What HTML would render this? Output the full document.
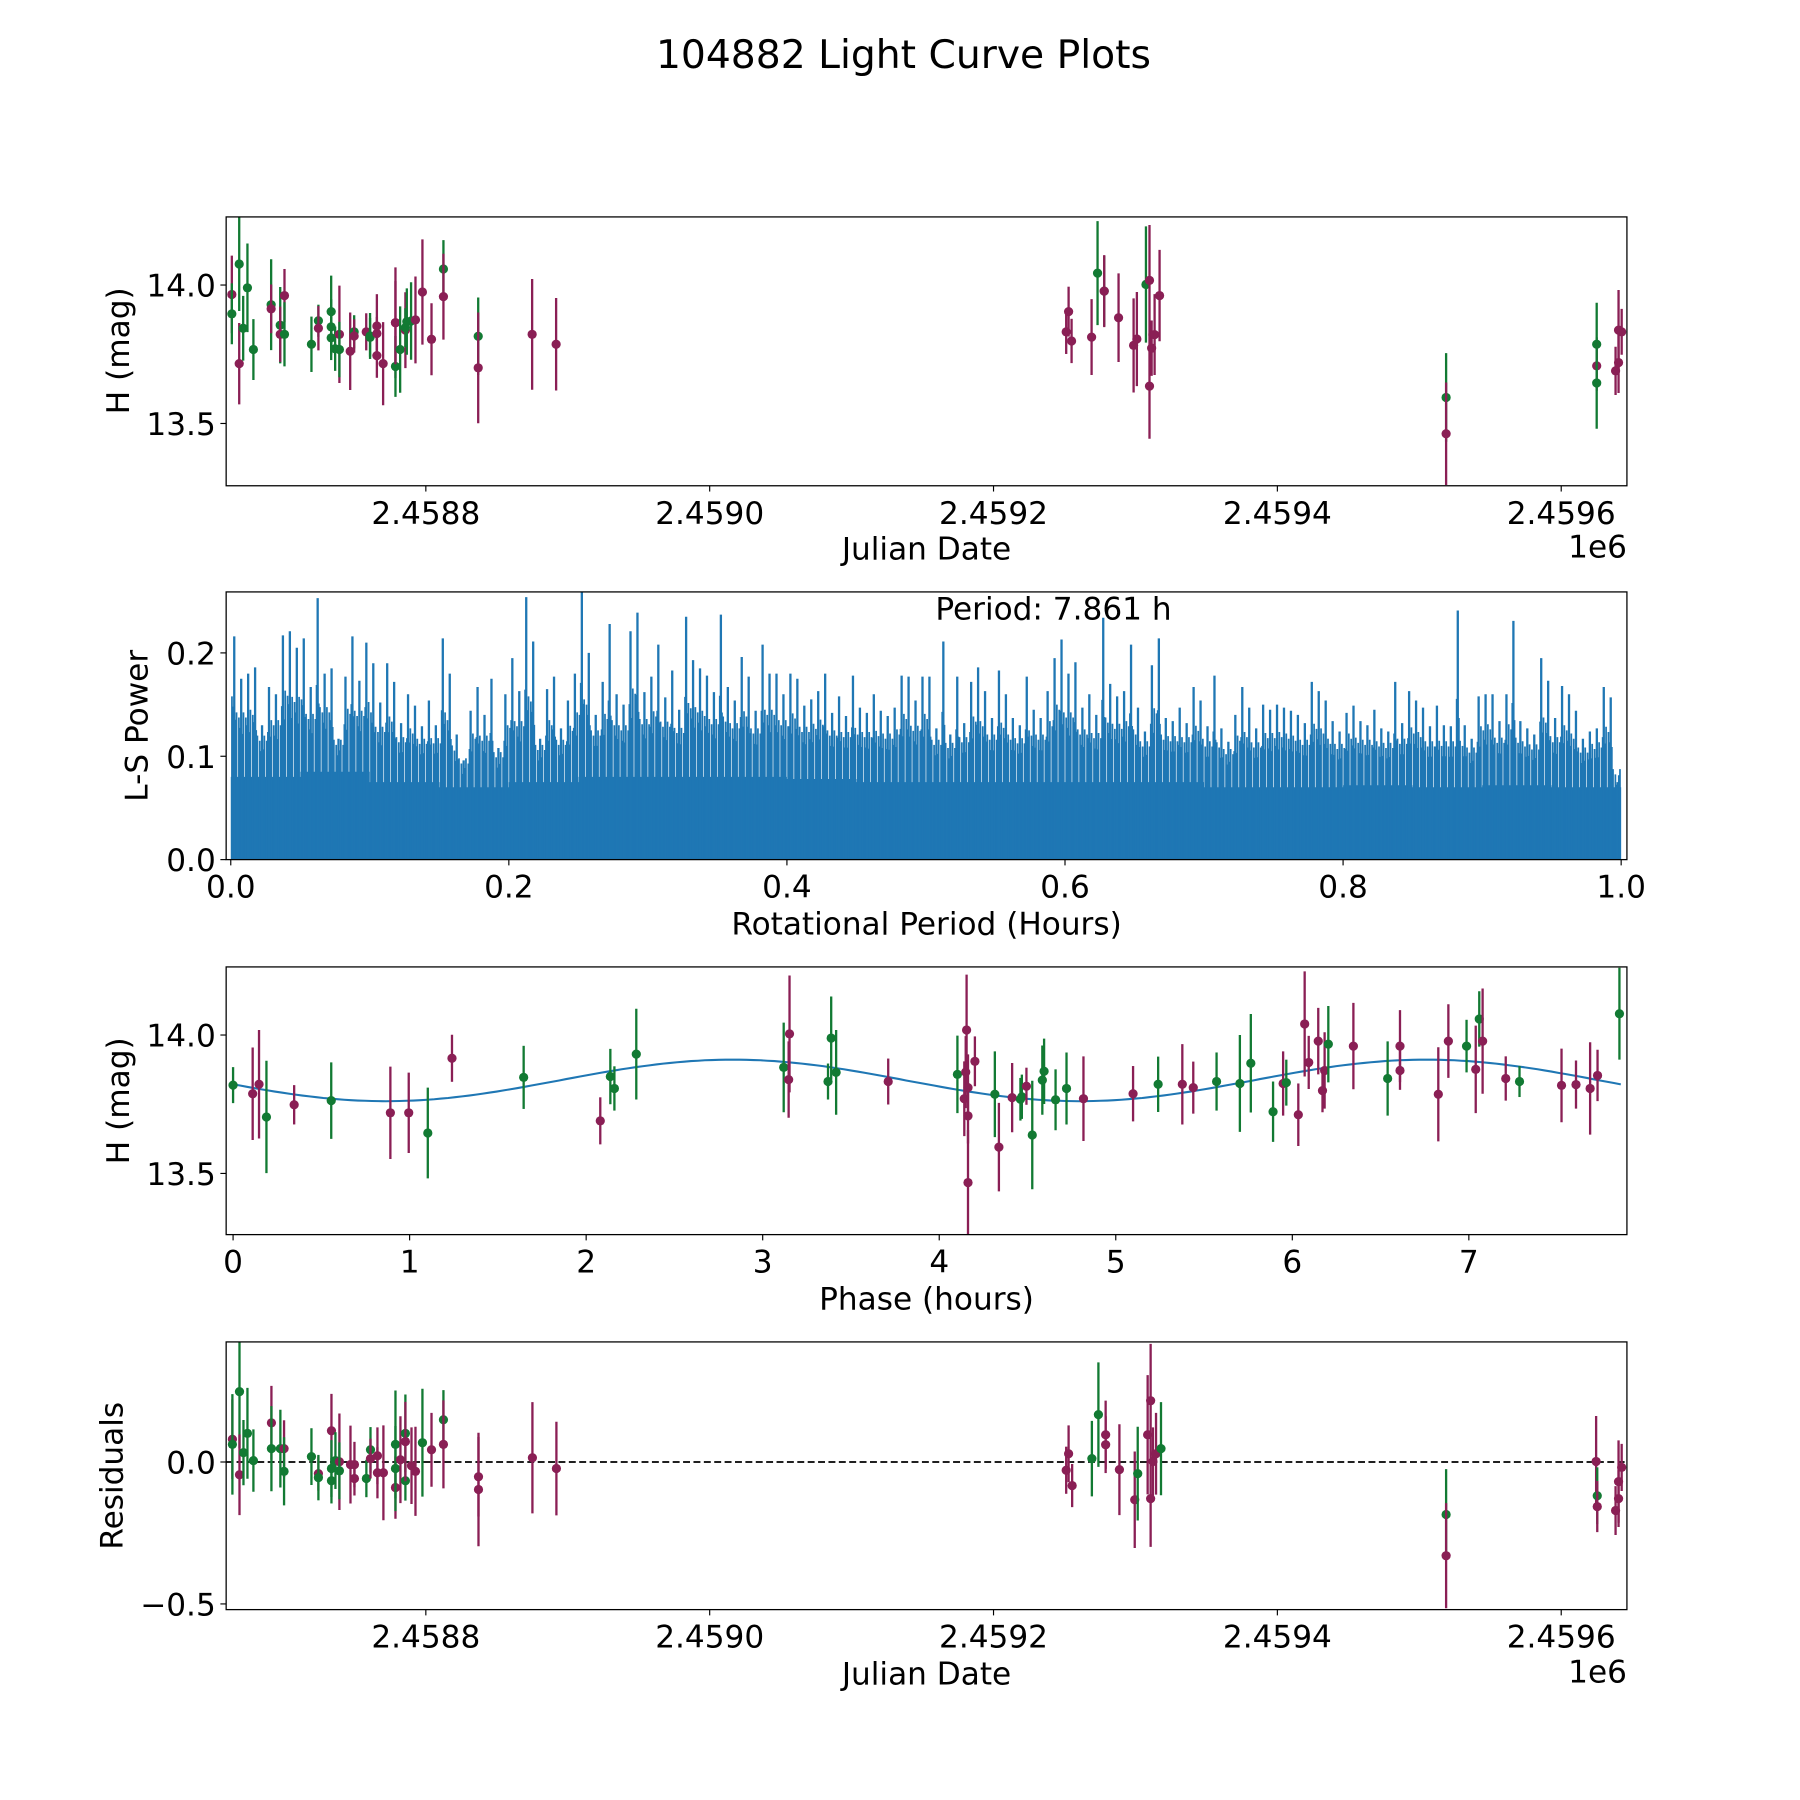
<!DOCTYPE html>
<html><head><meta charset="utf-8"><style>
html,body{margin:0;padding:0;background:#fff;}
svg{display:block;font-family:"DejaVu Sans","Liberation Sans",sans-serif;}
</style></head><body>
<svg id="fig" width="1800" height="1800" viewBox="0 0 1560 1560" xmlns="http://www.w3.org/2000/svg">
<rect width="1560" height="1560" fill="#fff"/>
<text x="783" y="59" font-size="34" text-anchor="middle">104882 Light Curve Plots</text>
</svg>
<script>
// ---------- DATA ----------
const lcJd = [-136.7,-136.7,-131.5,-131.5,-128.7,-125.7,-121.5,-109,-109,-102.6,-102.6,-99.6,-99.6,-80.6,-75.7,-75.7,-66.7,-66.7,-66.7,-63.9,-60.9,-60.9,-53.3,-50.5,-50.5,-42,-39.3,-39.3,-34.5,-34.5,-34.5,-30.1,-21.4,-21.4,-21.4,-18.1,-14.4,-14.4,-13.4,-10.4,-7.3,-2.4,4,12.4,12.4,36.9,36.9,74.9,91.8,451.2,452.9,455,469.1,473.3,478,478,488.1,498.7,501,507.4,509.9,509.9,511.4,513.5,517,718.9,718.9,825,825,825,838.3,840.4,840.4,842.6];
const lcMag = [13.966,13.896,14.076,13.716,13.844,13.99,13.767,13.929,13.914,13.855,13.822,13.962,13.822,13.786,13.871,13.844,13.904,13.849,13.809,13.770,13.822,13.767,13.761,13.831,13.816,13.831,13.816,13.811,13.852,13.745,13.825,13.716,13.864,13.706,13.864,13.767,13.837,13.846,13.868,13.87,13.874,13.975,13.804,14.058,13.958,13.815,13.701,13.822,13.786,13.831,13.904,13.798,13.812,14.043,13.978,13.978,13.882,13.782,13.805,14.002,14.017,13.635,13.772,13.821,13.962,13.594,13.463,13.786,13.708,13.646,13.69,13.837,13.72,13.831];
const lcErr = [.14,.11,.17,.147,.117,.16,.11,.164,.088,.138,.1,.096,.116,.1,.058,.08,.13,.1,.08,.08,.176,.1,.14,.06,.06,.067,.083,.07,.115,.08,.06,.15,.2,.11,.15,.156,.137,.07,.12,.14,.157,.19,.13,.104,.155,.14,.2,.2,.167,.08,.09,.08,.137,.188,.127,.13,.16,.17,.17,.21,.2,.19,.1,.146,.165,.16,.185,.15,.09,.165,.087,.145,.11,.083];
const lcCol = "mggmgggg mgmmgggmggggmgmgmmggmmmmmgmgmgggmmmgmgmmmmmmmgg mmmmgmmm mmgmgmgmm".replace(/ /g,"");

const lsStart = 0, lsStep = 0.005;
const lsPower = [0.216,0.175,0.18,0.186,0.13,0.167,0.16,0.217,0.221,0.205,0.214,0.167,0.253,0.18,0.185,0.117,0.177,0.216,0.173,0.21,
0.19,0.152,0.19,0.172,0.132,0.16,0.149,0.129,0.154,0.13,0.214,0.18,0.121,0.096,0.144,0.167,0.14,0.175,0.108,0.16,
0.195,0.163,0.254,0.211,0.117,0.165,0.177,0.127,0.154,0.18,0.262,0.2,0.14,0.172,0.228,0.16,0.15,0.221,0.239,0.162,
0.177,0.208,0.157,0.183,0.145,0.235,0.193,0.185,0.178,0.162,0.237,0.167,0.154,0.196,0.177,0.144,0.208,0.18,0.18,0.16,
0.18,0.175,0.149,0.155,0.163,0.18,0.142,0.158,0.139,0.178,0.147,0.142,0.16,0.144,0.139,0.147,0.178,0.177,0.154,0.177,
0.177,0.127,0.211,0.121,0.177,0.132,0.172,0.186,0.163,0.137,0.183,0.16,0.137,0.13,0.177,0.145,0.137,0.163,0.195,0.213,
0.18,0.191,0.147,0.16,0.14,0.234,0.17,0.158,0.163,0.208,0.147,0.124,0.188,0.214,0.137,0.134,0.147,0.132,0.167,0.154,
0.129,0.178,0.127,0.114,0.14,0.167,0.147,0.127,0.15,0.145,0.15,0.147,0.144,0.14,0.132,0.172,0.163,0.154,0.134,0.124,
0.142,0.149,0.134,0.13,0.145,0.127,0.124,0.172,0.132,0.163,0.154,0.147,0.129,0.149,0.13,0.129,0.241,0.13,0.117,0.158,
0.16,0.16,0.134,0.16,0.231,0.134,0.127,0.121,0.195,0.173,0.137,0.168,0.16,0.144,0.117,0.124,0.127,0.167,0.157,0.075];
const lsBulkStep = 0.05;
const lsBulk = [0.08,0.085,0.075,0.07,0.075,0.08,0.08,0.08,0.078,0.075,0.075,0.075,0.075,0.075,0.07,0.07,0.072,0.07,0.072,0.07];
const periodText = "Period: 7.861 h";

const phPhase = [0,0.111,0.147,0.189,0.346,0.556,0.891,0.995,1.103,1.240,1.646,2.080,2.137,2.160,2.284,3.119,3.147,3.152,3.370,3.388,3.416,3.711,
4.103,4.155,4.150,4.142,4.163,4.163,4.163,4.202,4.315,4.338,4.413,4.460,4.468,4.494,4.527,4.584,4.594,4.659,4.721,4.817,5.098,5.240,5.377,5.439,5.571,5.703,5.765,5.891,5.948,5.966,6.034,6.070,6.093,6.147,6.171,6.183,6.204,6.346,6.540,6.610,6.610,6.827,6.884,6.987,7.039,7.059,7.078,7.209,7.287,7.525,7.607,7.687,7.729,7.853];
const phMag = [13.819,13.788,13.822,13.704,13.748,13.763,13.719,13.719,13.646,13.916,13.847,13.690,13.850,13.807,13.931,13.883,13.839,14.004,13.832,13.989,13.865,13.832,
13.858,14.018,13.866,13.770,13.81,13.708,13.467,13.905,13.786,13.595,13.774,13.768,13.777,13.815,13.639,13.837,13.869,13.766,13.807,13.770,13.788,13.822,13.822,13.810,13.832,13.825,13.898,13.723,13.825,13.828,13.712,14.04,13.901,13.978,13.799,13.872,13.967,13.960,13.843,13.960,13.872,13.786,13.978,13.960,13.876,14.058,13.978,13.843,13.832,13.818,13.821,13.807,13.854,14.077];
const phErr = [.065,.167,.196,.203,.071,.138,.167,.145,.164,.085,.114,.085,.1,.08,.164,.162,.138,.211,.065,.15,.153,.083,
.14,.2,.13,.135,.12,.1,.19,.09,.155,.16,.125,.077,.08,.067,.196,.125,.118,.11,.13,.153,.1,.1,.145,.094,.105,.175,.178,.109,.116,.083,.113,.19,.096,.12,.078,.138,.138,.156,.134,.13,.07,.17,.133,.095,.158,.1,.19,.08,.056,.133,.087,.167,.093,.166];
const phCol = "gmmgmgmmgmgmggggmmgggm"+"gmmmmmmmgmmggmgggggmmgmmggggmgmmmmmmgmgmmmmgmgmmgmmmmgg";
const modelPeriodH = 7.861;
const modelMean = [13.836];
const modelAmp = [0.075];
const modelPeak = [2.83];
const modelHalfPeriod = [3.93];

const rsJd = [-136.3,-136.3,-131.3,-131.3,-128.5,-125.7,-121.5,-108.8,-108.8,-102.5,-99.9,-99.9,-80.6,-75.7,-75.7,-66.5,-66.5,-66.5,-63.7,-60.9,-60.9,-53.1,-50.3,-50.3,-41.9,-39,-39,-34.1,-34.1,-29.9,-21.4,-21.4,-21.4,-17.9,-14.4,-14.4,-14.4,-10.1,-7.3,-2.4,4,12.4,12.4,37.1,37.1,75.1,92,
451.2,452.9,455.4,469.3,473.9,479,479,488.7,499.5,501.6,508.6,510.7,510.7,512.3,514.5,518,718.9,718.9,824.6,825.4,825.4,838.3,840.4,840.4,842.6];
const rsVal = [.080,.062,.248,-.045,.033,.101,.005,.138,.047,.047,.047,-.033,.019,-.041,-.055,.110,-.023,-.066,.005,.001,-.031,-.009,-.058,-.009,-.058,.043,.012,.022,-.038,-.038,.062,-.09,-.023,.008,.101,-.066,.072,-.013,-.033,.068,.043,.149,.062,-.052,-.097,.015,-.023,
-.029,.029,-.083,.012,.167,.096,.061,-.027,-.133,-.041,.096,.216,-.129,.002,.029,.047,-.185,-.33,.002,-.119,-.157,-.171,-.069,-.129,-.019];
const rsErr = [.14,.177,.2,.142,.115,.16,.11,.13,.15,.137,.1,.12,.1,.06,.08,.13,.1,.08,.1,.17,.1,.137,.06,.08,.066,.08,.07,.1,.09,.167,.19,.11,.15,.153,.137,.07,.14,.135,.157,.19,.13,.104,.155,.14,.2,.196,.165,
.083,.1,.076,.133,.184,.12,.1,.16,.17,.165,.21,.2,.17,.12,.144,.164,.16,.185,.16,.1,.09,.086,.145,.1,.083];
const rsCol = "mggmggg mggmg gmgmgggmgmmmggmmmmgmgmggmmmgmgmm".replace(/ /g,"") + "mmmmmmggmmmmgmmmmmggmmgmm";

const jdTicks = [2458800,2459000,2459200,2459400,2459600];
const jdTickLabels = ["2.4588","2.4590","2.4592","2.4594","2.4596"];
const magTicks = [14.0,13.5];
const magTickLabels = ["14.0","13.5"];
const lsXTicks = [0,0.2,0.4,0.6,0.8,1.0];
const lsXTickLabels = ["0.0","0.2","0.4","0.6","0.8","1.0"];
const lsYTicks = [0,0.1,0.2];
const lsYTickLabels = ["0.0","0.1","0.2"];
const phTicks = [0,1,2,3,4,5,6,7];
const phTickLabels = ["0","1","2","3","4","5","6","7"];
const rsTicks = [0,-0.5];
const rsTickLabels = ["0.0","\u22120.5"];

// ---------- DRAWING ----------
const NS = "http://www.w3.org/2000/svg";
const svg = document.getElementById("fig");
const COL = {m:"#8a1f55", g:"#127a33"};
const FS = 27;
function el(tag, attrs, parent){
  const e = document.createElementNS(NS, tag);
  for (const k in attrs) e.setAttribute(k, attrs[k]);
  (parent||svg).appendChild(e);
  return e;
}
function lin(d0,d1,p0,p1){ return v => p0 + (v-d0)*(p1-p0)/(d1-d0); }

const L = 196, R = 1410;
const panels = [{t:188,b:421},{t:513,b:745},{t:838,b:1070},{t:1163,b:1395}];
const jdX = lin(2458659.3, 2459646.3, L, R);

function frame(p, name){
  const g = el("g", {});
  
  
  return g;
}
function border(g,p){
  const r = el("rect",{x:L,y:p.t,width:R-L,height:p.b-p.t,fill:"none",stroke:"#000","stroke-width":1.1},g);
  
  
}
function xTicks(g,p,vals,labels,fx){
  vals.forEach((v,i)=>{
    const x = fx(v);
    el("line",{x1:x,x2:x,y1:p.b,y2:p.b+5,stroke:"#000","stroke-width":1},g);
    const t = el("text",{x:x,y:p.b+33,"font-size":FS,"text-anchor":"middle"},g);
    t.textContent = labels[i];
    
    
  });
}
function yTicks(g,p,vals,labels,fy){
  vals.forEach((v,i)=>{
    const y = fy(v);
    el("line",{x1:L-5,x2:L,y1:y,y2:y,stroke:"#000","stroke-width":1},g);
    const t = el("text",{x:L-9,y:y+10,"font-size":FS,"text-anchor":"end"},g);
    t.textContent = labels[i];
    
    
  });
}
function label(g,txt,x,y,rot,name){
  const t = el("text",{x:x,y:y,"font-size":FS,"text-anchor":"middle"},g);
  if (rot) t.setAttribute("transform",`rotate(-90 ${x} ${y})`);
  t.textContent = txt;
  
  
}
function errPoints(g, xs, ys, es, cs, fx, fy, clipId){
  const pg = el("g",{"clip-path":`url(#${clipId})`},g);
  xs.forEach((xv,i)=>{
    const x = fx(xv), c = COL[cs[i]]||COL.m;
    const eb = el("line",{x1:x,x2:x,y1:fy(ys[i]-es[i]),y2:fy(ys[i]+es[i]),stroke:c,"stroke-width":2},pg);
    
    
    const pt = el("circle",{cx:x,cy:fy(ys[i]),r:4,fill:c},pg);
    
    
  });
}
const defs = el("defs",{});
panels.forEach((p,i)=>{
  const cp = el("clipPath",{id:"clip"+i},defs);
  el("rect",{x:L,y:p.t,width:R-L,height:p.b-p.t},cp);
});

// Panel 1
{
  const p = panels[0];
  const g = frame(p,"light-curve-panel");
  const fy = lin(14.246, 13.275, p.t, p.b);
  errPoints(g, lcJd.map(v=>v+2458800), lcMag, lcErr, lcCol, jdX, fy, "clip0");
  border(g,p);
  xTicks(g,p,jdTicks,jdTickLabels,jdX);
  yTicks(g,p,magTicks,magTickLabels,fy);
  label(g,"Julian Date",803,485,false,"x-axis-title");
  const e = el("text",{x:R,y:483,"font-size":FS,"text-anchor":"end"},g); e.textContent="1e6";
   
  label(g,"H (mag)",112,304,true,"y-axis-title");
}
// Panel 2
{
  const p = panels[1];
  const g = frame(p,"periodogram-panel");
  const fx = lin(0,1,200,1405);
  const fy = lin(0,0.259,p.b,p.t);
  const pg = el("g",{"clip-path":"url(#clip1)"},g);
  let d = `M${fx(lsStart)},${fy(0)}`;
  lsBulk.forEach((v,i)=>{ d += ` L${fx(i*lsBulkStep)},${fy(v)} L${fx((i+1)*lsBulkStep)},${fy(v)}`; });
  d += ` L${fx(1)},${fy(0)} Z`;
  const bulk = el("path",{d:d,fill:"#1f77b4"},pg);
  
  
  const w = fx(lsStep)-fx(0);
  lsPower.forEach((v,i)=>{
    const x = fx(lsStart + (i+0.5)*lsStep);
    const b = lsBulk[Math.min(lsBulk.length-1, Math.floor(i*lsStep/lsBulkStep))];
    const prev = i>0 ? lsPower[i-1] : v, next = i<lsPower.length-1 ? lsPower[i+1] : v;
    const mids = [[x - w*0.33, (b + Math.min(v,prev))/2 + 0.01],[x + w*0.33, (b + Math.min(v,next))/2 + 0.015],[x - w*0.16,(b+v)/2],[x+w*0.16,(b*2+v)/3+0.01]];
    mids.forEach(m=>{
      const ln2 = el("line",{x1:m[0],x2:m[0],y1:fy(0),y2:fy(m[1]),stroke:"#1f77b4","stroke-width":1.5},pg);
      
      
    });
    const ln = el("line",{x1:x,x2:x,y1:fy(0),y2:fy(v),stroke:"#1f77b4","stroke-width":2},pg);
    
    
  });
  border(g,p);
  xTicks(g,p,lsXTicks,lsXTickLabels,fx);
  yTicks(g,p,lsYTicks,lsYTickLabels,fy);
  label(g,"Rotational Period (Hours)",803,810,false,"x-axis-title");
  label(g,"L-S Power",128,629,true,"y-axis-title");
  const pt = el("text",{x:913,y:537,"font-size":FS,"text-anchor":"middle"},g);
  pt.textContent = periodText;
  
  
}
// Panel 3
{
  const p = panels[2];
  const g = frame(p,"phased-curve-panel");
  const fx = lin(0,7,202,1273);
  const fy = lin(14.246,13.279,p.t,p.b);
  let d = "";
  for (let k=0;k<=200;k++){
    const ph = k/200*modelPeriodH;
    const h = modelMean[0] + modelAmp[0]*Math.cos(2*Math.PI*(ph-modelPeak[0])/modelHalfPeriod[0]);
    d += (k?" L":"M")+fx(ph).toFixed(1)+","+fy(h).toFixed(1);
  }
  const curve = el("path",{d:d,fill:"none",stroke:"#1f77b4","stroke-width":1.8},g);
  
  
  errPoints(g, phPhase, phMag, phErr, phCol, fx, fy, "clip2");
  border(g,p);
  xTicks(g,p,phTicks,phTickLabels,fx);
  yTicks(g,p,magTicks,magTickLabels,fy);
  label(g,"Phase (hours)",803,1135,false,"x-axis-title");
  label(g,"H (mag)",112,954,true,"y-axis-title");
}
// Panel 4
{
  const p = panels[3];
  const g = frame(p,"residuals-panel");
  const fy = lin(0.423,-0.520,p.t,p.b);
  const z = el("line",{x1:L,x2:R,y1:fy(0),y2:fy(0),stroke:"#000","stroke-width":1.5,"stroke-dasharray":"6,3"},g);
  
  
  errPoints(g, rsJd.map(v=>v+2458800), rsVal, rsErr, rsCol, jdX, fy, "clip3");
  border(g,p);
  xTicks(g,p,jdTicks,jdTickLabels,jdX);
  yTicks(g,p,rsTicks,rsTickLabels,fy);
  label(g,"Julian Date",803,1460,false,"x-axis-title");
  const e = el("text",{x:R,y:1458,"font-size":FS,"text-anchor":"end"},g); e.textContent="1e6";
   
  label(g,"Residuals",106,1279,true,"y-axis-title");
}
</script>
</body></html>
